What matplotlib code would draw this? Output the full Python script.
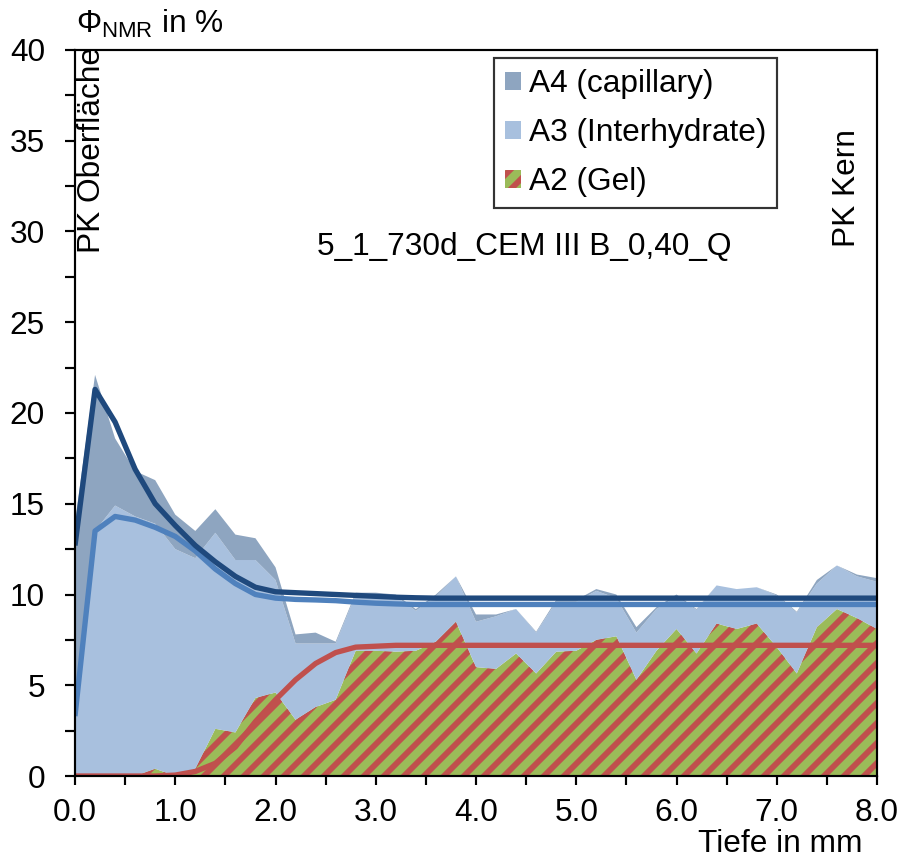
import numpy as np
from matplotlib import pyplot as plt
from matplotlib.patches import Patch
from matplotlib.ticker import MultipleLocator, FormatStrFormatter

# depth in mm, 0.2 mm steps
depth = [round(0.2 * i, 1) for i in range(41)]

# stacked area components in %
a2_gel = [0.0, 0.0, 0.0, 0.0, 0.4, 0.0, 0.4, 2.6, 2.4, 4.3,
          4.6, 3.1, 3.8, 4.2, 6.9, 6.9, 6.85, 6.9, 7.4, 8.5,
          6.0, 5.9, 6.75, 5.65, 6.85, 6.9, 7.5, 7.7, 5.3, 6.9,
          8.1, 6.75, 8.4, 8.1, 8.4, 7.1, 5.65, 8.2, 9.2, 8.7,
          8.1]
a3_inter = [3.5, 13.5, 14.9, 14.3, 13.5, 12.5, 11.6, 10.8, 9.5, 7.6,
            6.2, 4.2, 3.5, 3.1, 3.1, 3.1, 3.05, 2.2, 2.5, 2.5,
            2.5, 2.9, 2.45, 2.25, 2.75, 2.7, 2.7, 2.1, 2.6, 2.3,
            1.8, 2.4, 2.1, 2.2, 2.0, 2.85, 3.35, 2.4, 2.4, 2.3,
            2.6]
a4_cap = [10.5, 8.6, 3.7, 2.5, 2.4, 1.9, 1.5, 1.3, 1.4, 1.2,
          0.7, 0.5, 0.6, 0.1, 0.1, 0.1, 0.1, 0.1, 0.1, 0.0,
          0.4, 0.1, 0.0, 0.05, 0.1, 0.1, 0.1, 0.2, 0.3, 0.1,
          0.1, 0.05, 0.0, 0.0, 0.0, 0.05, 0.05, 0.2, 0.0, 0.1,
          0.2]

# fitted curves
fit_total = [12.7, 21.3, 19.5, 16.9, 15.0, 13.8, 12.7, 11.8, 11.0, 10.4,
             10.15, 10.1, 10.05, 10.0, 9.95, 9.9, 9.85, 9.82, 9.8, 9.8,
             9.8, 9.8, 9.8, 9.8, 9.8, 9.8, 9.8, 9.8, 9.8, 9.8,
             9.8, 9.8, 9.8, 9.8, 9.8, 9.8, 9.8, 9.8, 9.8, 9.8,
             9.8]
fit_a3 = [3.3, 13.5, 14.3, 14.1, 13.7, 13.2, 12.4, 11.4, 10.6, 10.0,
          9.8, 9.73, 9.7, 9.66, 9.58, 9.52, 9.48, 9.45, 9.45, 9.45,
          9.45, 9.45, 9.45, 9.45, 9.45, 9.45, 9.45, 9.45, 9.45, 9.45,
          9.45, 9.45, 9.45, 9.45, 9.45, 9.45, 9.45, 9.45, 9.45, 9.45,
          9.45]
fit_a2 = [0.0, 0.0, 0.0, 0.0, 0.0, 0.05, 0.25, 0.7, 1.6, 3.0,
          4.2, 5.3, 6.2, 6.8, 7.1, 7.15, 7.2, 7.2, 7.2, 7.2,
          7.2, 7.2, 7.2, 7.2, 7.2, 7.2, 7.2, 7.2, 7.2, 7.2,
          7.2, 7.2, 7.2, 7.2, 7.2, 7.2, 7.2, 7.2, 7.2, 7.2,
          7.2]

labels = ['A4 (capillary)', 'A3 (Interhydrate)', 'A2 (Gel)']

c_a4 = '#8EA5C0'
c_a3 = '#A8C0DE'
c_green = '#9BBB59'
c_red = '#C0504D'
c_dark = '#1F497D'
c_mid = '#4F81BD'

plt.rcParams['font.family'] = ['Liberation Sans', 'DejaVu Sans']
plt.rcParams['mathtext.fontset'] = 'custom'
plt.rcParams['mathtext.rm'] = 'Liberation Sans'
plt.rcParams['hatch.linewidth'] = 3.5
plt.rcParams['hatch.color'] = c_red

W, H = 899, 859
DPI = 120
fig = plt.figure(figsize=(W / DPI, H / DPI), dpi=DPI)
ax = fig.add_axes([75 / W, 1 - 776 / H, (877 - 75) / W, (776 - 50) / H])

polys = ax.stackplot(depth, a2_gel, a3_inter, a4_cap,
                     colors=[c_green, c_a3, c_a4], linewidth=0)
polys[0].set_hatch('//')
polys[0].set_edgecolor(c_red)
polys[0].set_linewidth(0)

ax.plot(depth, fit_a2, color=c_red, lw=3.2, solid_capstyle='butt')
ax.plot(depth, fit_a3, color=c_mid, lw=3.2, solid_capstyle='butt')
ax.plot(depth, fit_total, color=c_dark, lw=3.2, solid_capstyle='butt')

ax.set_xlim(0, 8)
ax.set_ylim(0, 40)
ax.xaxis.set_major_locator(MultipleLocator(1))
ax.xaxis.set_minor_locator(MultipleLocator(0.5))
ax.xaxis.set_major_formatter(FormatStrFormatter('%.1f'))
ax.yaxis.set_major_locator(MultipleLocator(5))
ax.yaxis.set_minor_locator(MultipleLocator(2.5))

for s in ax.spines.values():
    s.set_linewidth(1.3)
ax.tick_params(axis='both', which='both', direction='out', width=1.3,
               labelsize=19)
ax.tick_params(axis='x', which='both', length=5.4, pad=8)
ax.tick_params(axis='y', which='both', length=6, pad=12)

handles = [Patch(facecolor=c_a4, linewidth=0),
           Patch(facecolor=c_a3, linewidth=0),
           Patch(facecolor=c_green, edgecolor=c_red, hatch='//', linewidth=0)]
leg = ax.legend(handles, labels, loc='upper right',
                bbox_to_anchor=((777 - 75) / 802, (776 - 58) / 726),
                borderaxespad=0, fontsize=19, frameon=True, fancybox=False,
                handlelength=0.5, handleheight=0.5, handletextpad=0.25,
                labelspacing=0.6, borderpad=0.35)
leg.get_frame().set_edgecolor('black')
leg.get_frame().set_linewidth(1.3)

ax.text(4.48, 28.7, '5_1_730d_CEM III B_0,40_Q', fontsize=19,
        ha='center', va='baseline')
ax.text(0.02, 28.8, 'PK Oberfläche', fontsize=19, rotation=90,
        ha='left', va='bottom')
ax.text(7.55, 29.15, 'PK Kern', fontsize=19, rotation=90,
        ha='left', va='bottom')

fig.text(76 / W, 1 - 33 / H, r'$\mathregular{Φ_{NMR}}$ in %', fontsize=19,
         ha='left', va='baseline')
fig.text(863 / W, 1 - 852 / H, 'Tiefe in mm', fontsize=19,
         ha='right', va='baseline')

fig.savefig('out.png', dpi=DPI)
